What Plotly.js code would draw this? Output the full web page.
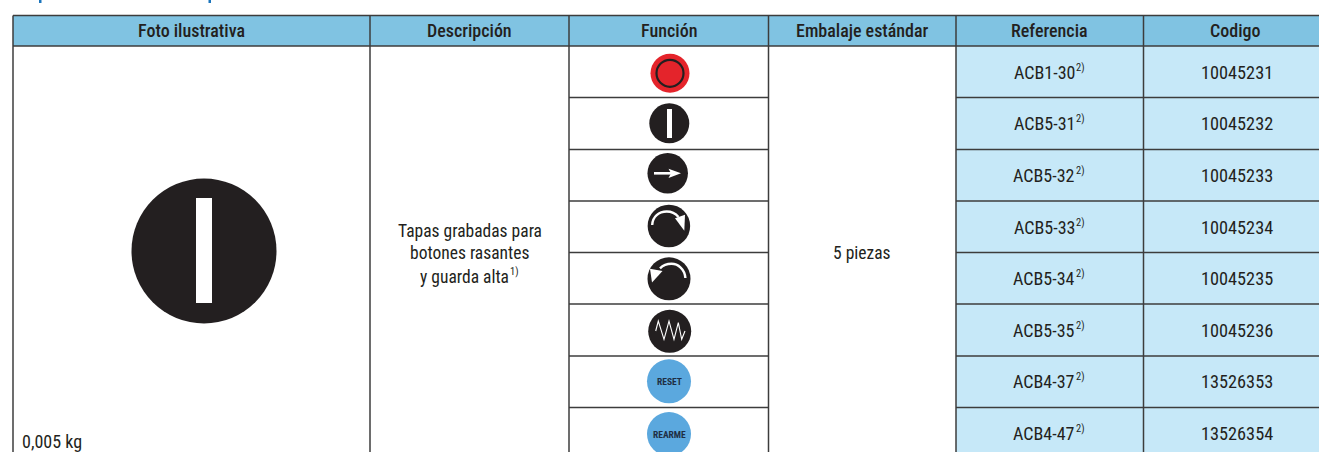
<!DOCTYPE html>
<html><head><meta charset="utf-8">
<script src="https://cdn.plot.ly/plotly-3.0.1.min.js"></script>
<style>html,body{margin:0;padding:0;background:#fff;overflow:hidden}</style>
</head><body><div id="chart" style="width:1319px;height:452px"></div>
<script>
// ---- data ----
var headers = ["Foto ilustrativa","Descripción","Función","Embalaje estándar","Referencia","Codigo"];
var referencias = ["ACB1-30","ACB5-31","ACB5-32","ACB5-33","ACB5-34","ACB5-35","ACB4-37","ACB4-47"];
var codigos = ["10045231","10045232","10045233","10045234","10045235","10045236","13526353","13526354"];
var iconColors = ["#e4242b","#231f20","#231f20","#231f20","#231f20","#231f20","#5ba8de","#5ba8de"];
var iconLabels = ["","","","","","","RESET","REARME"];
var descripcion = ["Tapas grabadas para","botones rasantes","y guarda alta"];
var embalaje = "5 piezas";
var peso = "0,005 kg";
var notaDesc = "1)", notaRef = "2)";

// ---- layout constants ----
var colEdges = [13,370,569,768.5,956,1143.5,1325];
var rowEdges = [46,97.5,149.5,201,252.5,304,356,407.5,470];
var headTop = 15.5;
var iconX = [670,669.3,667.7,668.9,669,669.7,669,669];
var iconY = [73.3,123.3,173.3,226,278.8,331.3,381.3,434];
var iconD = [39,40,40.5,42.5,43,43,44,44];
var refY = [72.5,123.5,175.5,227.5,278.5,330.5,381.5,433.5];
var FONT = "'Roboto Condensed','Liberation Sans',sans-serif";
var INK = "#231f20", LINE = "#3c3c3c";

var shapes = [], ann = [];
function rect(x0,y0,x1,y1,fill){shapes.push({type:"rect",layer:"below",x0:x0,y0:y0,x1:x1,y1:y1,fillcolor:fill,line:{width:0}});}
function seg(x0,y0,x1,y1,w,c){shapes.push({type:"line",layer:"below",x0:x0,y0:y0,x1:x1,y1:y1,line:{color:c||LINE,width:w||1.5}});}
function path(d,fill,stroke,w){shapes.push({type:"path",layer:"above",path:d,fillcolor:fill||"rgba(0,0,0,0)",line:{color:stroke||"rgba(0,0,0,0)",width:w||0}});}
function txt(x,y,t,size,color,weight,ax,ay){ann.push({x:x,y:y,text:t,showarrow:false,xanchor:ax||"center",yanchor:ay||"middle",align:"center",borderpad:0,borderwidth:0,
  font:{family:FONT,size:size,color:color||INK,weight:weight||400}});}

// fills
rect(colEdges[0],headTop,colEdges[6],rowEdges[0],"#80c3e2");
rect(colEdges[4],rowEdges[0],colEdges[6],rowEdges[8],"#c6e8f8");
// heading fragments cut off by the crop
rect(39,0,41.5,3,"#1b75bc");
rect(208.5,0,211,3,"#1b75bc");
// rules
seg(colEdges[0],headTop,colEdges[6],headTop,1.5);
seg(colEdges[0],rowEdges[0],colEdges[6],rowEdges[0],1.5);
colEdges.slice(0,6).forEach(function(x){seg(x,headTop,x,470,1.5);});
rowEdges.slice(1,8).forEach(function(y){
  seg(colEdges[2],y,colEdges[3],y,1.5);
  seg(colEdges[4],y,colEdges[6],y,1.5);
});
// header text
headers.forEach(function(h,i){
  txt((colEdges[i]+colEdges[i+1])/2 - (i==5?-1:0),30.5,h,18,INK,500);
});
// body text
var descY=[231,253,276.5];
descripcion.forEach(function(l,i){txt(i==2?464.5:469.5,descY[i],l,17.5);});
txt(509.5,271.5,notaDesc,10.5,INK,400,"left");
txt(862,253,embalaje,17.5);
txt(22,441.5,peso,18,INK,400,"left");
referencias.forEach(function(r,i){
  txt(1075,refY[i],r,18,INK,400,"right");
  txt(1076,refY[i]-5,notaRef,10.5,INK,400,"left");
  txt(1237,refY[i],codigos[i],18.3);
});
iconLabels.forEach(function(l,i){ if(l) txt(iconX[i],iconY[i],l,9.5,"#1f2f45",700); });

// glyphs on the icons
function bar(cx,y0,y1,w){rect2(cx-w/2,y0,cx+w/2,y1);}
function rect2(x0,y0,x1,y1){shapes.push({type:"rect",layer:"above",x0:x0,y0:y0,x1:x1,y1:y1,fillcolor:"#fff",line:{width:0}});}
bar(204,198,303,16);
bar(669.5,109,138,5);
rect2(654,172,672,174.6);
path("M668.5 168.8 L681 173.3 L668.5 177.9 L671 173.3 Z","#fff");
path("M652.2 225 C652.5 216.5 659 211.5 666.7 211.5 C671.5 211.5 675.5 213.5 678.5 217","rgba(0,0,0,0)","#fff",2.4);
path("M675 218.3 L685 214.8 L684.3 230.7 Z","#fff");
path("M685.4 278 C684.8 269 678 263.8 671.5 263.8 C667 263.8 663 265.3 660 268.3","rgba(0,0,0,0)","#fff",2.4);
path("M662.5 271 L650 268.8 L652 282.5 Z","#fff");
path("M655.7 331 L658.3 321 L664 339.3 L669 321 L674 339.3 L678.3 322.7 L681.7 339.3 L685 331","rgba(0,0,0,0)","#fff",1.1);

var traces = [
 {type:"scatter",mode:"markers",x:[204],y:[251],hoverinfo:"skip",
  marker:{size:145,color:INK,opacity:1,line:{width:0}}},
 {type:"scatter",mode:"markers",x:iconX,y:iconY,hoverinfo:"skip",
  marker:{size:iconD,color:iconColors,opacity:1,line:{width:0}}},
 {type:"scatter",mode:"markers",x:[iconX[0]],y:[iconY[0]],hoverinfo:"skip",
  marker:{size:27,color:"rgba(0,0,0,0)",opacity:1,line:{width:2.2,color:INK}}}
];
var layout = {
  width:1319,height:452,margin:{l:0,r:0,t:0,b:0},paper_bgcolor:"#fff",plot_bgcolor:"#fff",showlegend:false,
  xaxis:{range:[0,1319],visible:false,fixedrange:true},
  yaxis:{range:[452,0],visible:false,fixedrange:true},
  shapes:shapes,annotations:ann
};
Plotly.newPlot("chart",traces,layout,{displayModeBar:false,staticPlot:true});
</script></body></html>
